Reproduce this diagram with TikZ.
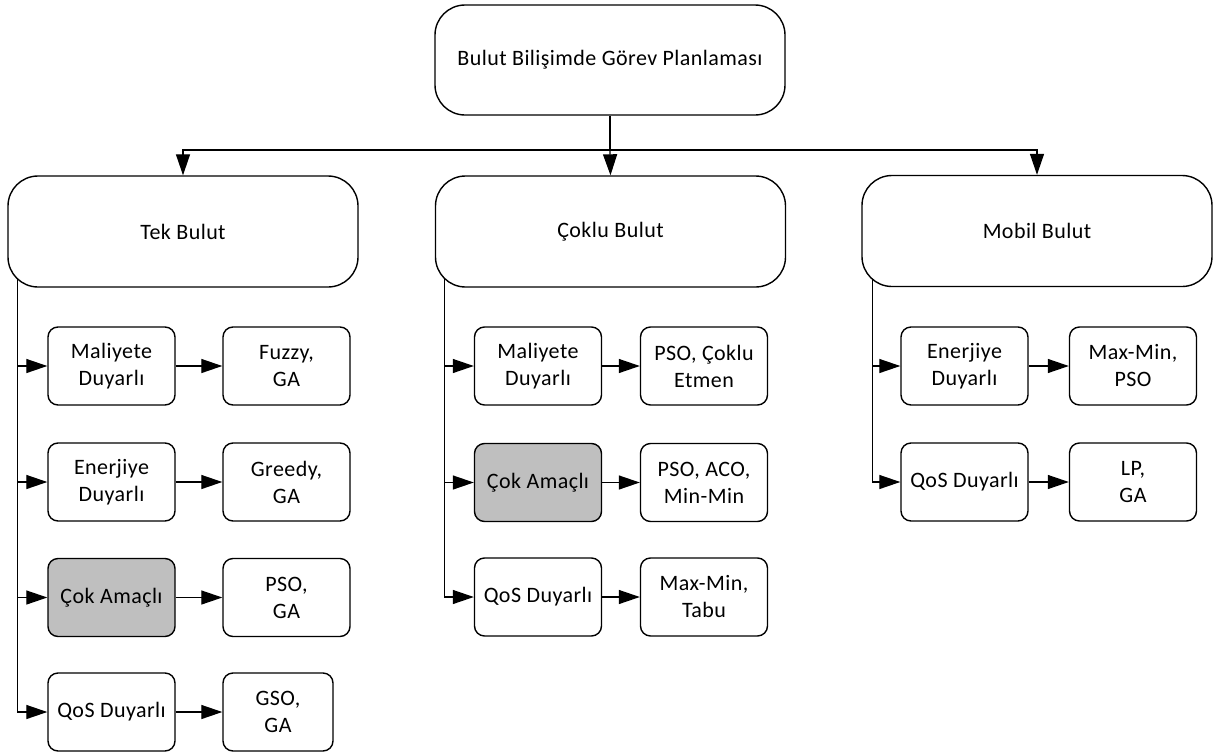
\documentclass[tikz,border=0pt]{standalone}
\usepackage{fontspec}
\setmainfont{Carlito}[LetterSpace=2]
\usetikzlibrary{arrows.meta,calc,backgrounds}
\begin{document}
\begin{tikzpicture}[x=1pt,y=-1pt,
  every node/.style={font=\fontsize{22}{27}\selectfont, align=center, inner sep=0pt},
  bigbox/.style={draw, line width=1.4pt, fill=white, rounded corners=30pt, minimum width=350pt, minimum height=111pt},
  smallbox/.style={draw, line width=1.4pt, fill=white, rounded corners=10pt, minimum width=127pt, minimum height=78pt},
  grey/.style={fill=black!25},
  arr/.style={line width=1.3pt, -{Triangle[length=21pt,width=14pt]}},
  ln/.style={line width=1.3pt}]
\useasboundingbox (0,0) rectangle (1219,753);
% root
\node[bigbox, minimum height=110pt] (root) at (610,60) {Bulut Bilişimde Görev Planlaması};
% level 2
\node[bigbox] (tek) at (183,231.5) {Tek Bulut};
\node[bigbox] (coklu) at (610.5,231.5) {Çoklu Bulut};
\node[bigbox] (mobil) at (1037,231) {Mobil Bulut};
% Tek Bulut column
\node[smallbox] (t1) at (111.5,366) {Maliyete\\Duyarlı};
\node[smallbox] (t1r) at (286.5,366) {Fuzzy,\\GA};
\node[smallbox] (t2) at (111.5,482) {Enerjiye\\Duyarlı};
\node[smallbox] (t2r) at (286.5,482) {Greedy,\\GA};
\node[smallbox, grey] (t3) at (111.5,597.5) {Çok Amaçlı};
\node[smallbox] (t3r) at (286.5,597.5) {PSO,\\GA};
\node[smallbox] (t4) at (111.5,712) {QoS Duyarlı};
\node[smallbox, minimum width=110pt] (t4r) at (278,712) {GSO,\\GA};
% Coklu Bulut column
\node[smallbox] (c1) at (538,366) {Maliyete\\Duyarlı};
\node[smallbox] (c1r) at (704,366) {PSO, Çoklu\\Etmen};
\node[smallbox, grey] (c2) at (538,482.5) {Çok Amaçlı};
\node[smallbox] (c2r) at (704,482.5) {PSO, ACO,\\Min-Min};
\node[smallbox] (c3) at (538,597) {QoS Duyarlı};
\node[smallbox] (c3r) at (704,597) {Max-Min,\\Tabu};
% Mobil Bulut column
\node[smallbox] (m1) at (964.5,366) {Enerjiye\\Duyarlı};
\node[smallbox] (m1r) at (1133,366) {Max-Min,\\PSO};
\node[smallbox] (m2) at (964.5,482) {QoS Duyarlı};
\node[smallbox] (m2r) at (1133,482) {LP,\\GA};
\coordinate (bar) at (610,150);
\begin{scope}[on background layer]
  \draw[ln] (root.south) -- (bar);
  \draw[arr] (bar) -| (tek.north);
  \draw[arr] (bar) -| (mobil.north);
  \draw[arr] (bar) -- (coklu.north);
  % Tek
  \foreach \n in {t1,t2,t3,t4} {\draw[arr] ($(tek.west)+(10,0)$) |- (\n.west);}
  \draw[arr] (t1) -- (t1r); \draw[arr] (t2) -- (t2r); \draw[arr] (t3) -- (t3r); \draw[arr] (t4) -- (t4r);
  % Coklu
  \foreach \n in {c1,c2,c3} {\draw[arr] ($(coklu.west)+(10,0)$) |- (\n.west);}
  \draw[arr] (c1) -- (c1r); \draw[arr] (c2) -- (c2r); \draw[arr] (c3) -- (c3r);
  % Mobil
  \foreach \n in {m1,m2} {\draw[arr] ($(mobil.west)+(11,0)$) |- (\n.west);}
  \draw[arr] (m1) -- (m1r); \draw[arr] (m2) -- (m2r);
\end{scope}
\end{tikzpicture}
\end{document}
